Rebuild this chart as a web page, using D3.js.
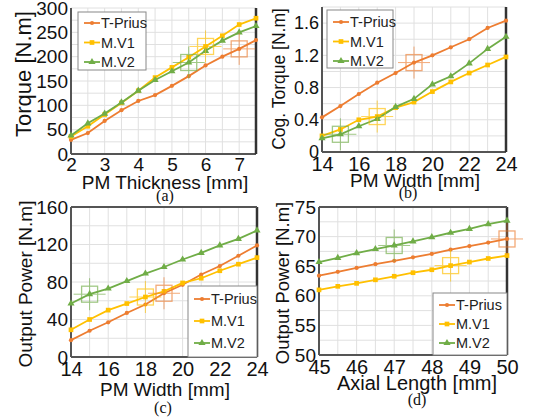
<!DOCTYPE html>
<html><head><meta charset="utf-8">
<script src="https://cdn.jsdelivr.net/npm/d3@7"></script>
<style>body{margin:0;background:#fff}svg{display:block}</style>
</head><body>
<script>
// ---- data ----
const seriesNames = ["T-Prius", "M.V1", "M.V2"];
const colors = ["#ED7D31", "#FFC000", "#70AD47"];

const xA = [2, 2.5, 3, 3.5, 4, 4.5, 5, 5.5, 6, 6.5, 7, 7.5];
const aPrius = [29, 43, 68, 90, 109, 121, 140, 160, 182, 200, 216, 234];
const aV1 = [36, 57, 81, 105, 130, 157, 178, 199, 221, 243, 266, 279];
const aV2 = [38, 63, 83, 106, 130, 152, 170, 188, 212, 233, 250, 263];
const aXTicks = [2, 3, 4, 5, 6, 7];
const aYTicks = [0, 50, 100, 150, 200, 250, 300];

const xB = [14, 15, 16, 17, 18, 19, 20, 21, 22, 23, 24];
const bPrius = [0.43, 0.57, 0.72, 0.86, 0.98, 1.11, 1.20, 1.30, 1.40, 1.54, 1.63];
const bV1 = [0.20, 0.28, 0.40, 0.44, 0.55, 0.62, 0.75, 0.87, 0.98, 1.08, 1.18];
const bV2 = [0.17, 0.22, 0.32, 0.41, 0.56, 0.66, 0.84, 0.94, 1.10, 1.28, 1.43];
const bXTicks = [14, 16, 18, 20, 22, 24];
const bYTicks = [0, 0.4, 0.8, 1.2, 1.6];

const xC = [14, 15, 16, 17, 18, 19, 20, 21, 22, 23, 24];
const cPrius = [18, 28, 37, 47, 56, 68, 77, 88, 97, 108, 119];
const cV1 = [29, 40, 50, 57, 64, 70, 79, 84, 92, 99, 106];
const cV2 = [57, 67, 73, 81, 89, 96, 104, 111, 119, 126, 135];
const cXTicks = [14, 16, 18, 20, 22, 24];
const cYTicks = [0, 40, 80, 120, 160];

const xD = [45, 45.5, 46, 46.5, 47, 47.5, 48, 48.5, 49, 49.5, 50];
const dPrius = [63.4, 64.05, 64.7, 65.35, 65.9, 66.5, 67.1, 67.8, 68.4, 69.0, 69.6];
const dV1 = [61.0, 61.6, 62.1, 62.7, 63.3, 63.9, 64.4, 65.1, 65.7, 66.3, 66.8];
const dV2 = [65.7, 66.4, 67.2, 67.9, 68.5, 69.2, 69.9, 70.65, 71.3, 72.1, 72.7];
const dXTicks = [45, 46, 47, 48, 49, 50];
const dYTicks = [50, 55, 60, 65, 70, 75];

// highlighted (selected) points: x value per series [T-Prius, M.V1, M.V2]
const aSel = [7, 6, 5.5];
const bSel = [19, 17, 15];
const cSel = [19, 18, 15];
const dSel = [50, 48.5, 47];

const W = 533, H = 417;
const svg = d3.select("body").append("svg").attr("width", W).attr("height", H);
const FONT = "'Liberation Sans', Arial, sans-serif";

function panel(cfg) {
  const g = svg.append("g");
  const x = d3.scaleLinear().domain(cfg.xDom).range([cfg.left, cfg.right]);
  const y = d3.scaleLinear().domain(cfg.yDom).range([cfg.bottom, cfg.top]);
  // grid
  const gx = d3.range(cfg.xDom[0], cfg.xDom[1] + 1e-9, cfg.xGrid);
  const gy = d3.range(cfg.yDom[0], cfg.yDom[1] + 1e-9, cfg.yGrid);
  g.selectAll(".gx").data(gx).join("line")
    .attr("x1", d => x(d)).attr("x2", d => x(d)).attr("y1", cfg.top).attr("y2", cfg.bottom)
    .attr("stroke", "#e0e0e0").attr("stroke-width", 1);
  g.selectAll(".gy").data(gy).join("line")
    .attr("x1", cfg.left).attr("x2", cfg.right).attr("y1", d => y(d)).attr("y2", d => y(d))
    .attr("stroke", "#e0e0e0").attr("stroke-width", 1);
  // frame
  const fr = g.append("g").attr("stroke", "#555").attr("stroke-width", 2).attr("fill", "none");
  fr.append("line").attr("x1", cfg.left).attr("x2", cfg.left).attr("y1", cfg.top).attr("y2", cfg.bottom);
  fr.append("line").attr("x1", cfg.left).attr("x2", cfg.right).attr("y1", cfg.bottom).attr("y2", cfg.bottom);
  fr.append("line").attr("x1", cfg.right).attr("x2", cfg.right).attr("y1", cfg.top).attr("y2", cfg.bottom).attr("stroke", "#333").attr("stroke-width", 2.5);
  if (cfg.topLine) fr.append("line").attr("x1", cfg.left).attr("x2", cfg.right).attr("y1", cfg.top).attr("y2", cfg.top);
  // axes (labels only)
  const xAxis = d3.axisBottom(x).tickValues(cfg.xTicks).tickSize(0).tickPadding(cfg.xPad).tickFormat(d3.format("~g"));
  const ax = g.append("g").attr("transform", `translate(0,${cfg.bottom})`).call(xAxis);
  ax.select(".domain").remove();
  ax.selectAll("text").attr("font-family", FONT).attr("font-size", cfg.xTickFs).attr("fill", "#111");
  const yAxis = d3.axisLeft(y).tickValues(cfg.yTicks).tickSize(0).tickPadding(3).tickFormat(d3.format("~g"));
  const ay = g.append("g").attr("transform", `translate(${cfg.left},0)`).call(yAxis);
  ay.select(".domain").remove();
  ay.selectAll("text").attr("font-family", FONT).attr("font-size", cfg.yTickFs).attr("fill", "#111");
  // titles
  g.append("text").attr("x", cfg.xtX).attr("y", cfg.xtY).attr("text-anchor", "middle")
    .attr("font-family", FONT).attr("font-size", cfg.xtFs).attr("fill", "#111").text(cfg.xTitle);
  g.append("text").attr("transform", `translate(${cfg.ytX},${cfg.ytY}) rotate(-90)`).attr("text-anchor", "middle")
    .attr("font-family", FONT).attr("font-size", cfg.ytFs).attr("fill", "#111").text(cfg.yTitle);
  g.append("text").attr("x", cfg.capX).attr("y", cfg.capY).attr("text-anchor", "middle")
    .attr("font-family", "'Liberation Serif', 'Times New Roman', serif").attr("font-size", 16).attr("fill", "#111").text(cfg.caption);
  // series
  const line = d3.line().x(d => x(d[0])).y(d => y(d[1]));
  cfg.series.forEach((vals, i) => {
    const pts = cfg.xs.map((xv, k) => [xv, vals[k]]);
    g.append("path").datum(pts).attr("d", line).attr("fill", "none")
      .attr("stroke", colors[i]).attr("stroke-width", 1.8);
    drawMarkers(g, pts.map(p => [x(p[0]), y(p[1])]), i);
  });
  // highlight boxes
  cfg.sel.forEach((sx, i) => {
    const k = cfg.xs.indexOf(sx);
    const cx = x(sx), cy = y(cfg.series[i][k]);
    const hg = g.append("g").attr("stroke", colors[i]).attr("fill", "none").attr("opacity", 0.65);
    hg.append("rect").attr("x", cx - 8).attr("y", cy - 8).attr("width", 16).attr("height", 16).attr("stroke-width", 1.3);
    hg.append("line").attr("x1", cx - 16).attr("x2", cx + 16).attr("y1", cy).attr("y2", cy).attr("stroke-width", 1);
    hg.append("line").attr("x1", cx).attr("x2", cx).attr("y1", cy - 16).attr("y2", cy + 16).attr("stroke-width", 1);
  });
  // legend
  const L = cfg.legend;
  const lg = g.append("g");
  lg.append("rect").attr("x", L.x).attr("y", L.y).attr("width", L.w).attr("height", L.h)
    .attr("fill", "#fff").attr("stroke", "#888").attr("stroke-width", 1);
  seriesNames.forEach((n, i) => {
    const yy = L.y + L.row0 + i * L.dy;
    lg.append("line").attr("x1", L.x + 6).attr("x2", L.x + 22).attr("y1", yy).attr("y2", yy)
      .attr("stroke", colors[i]).attr("stroke-width", 1.8);
    drawMarkers(lg, [[L.x + 14, yy]], i);
    lg.append("text").attr("x", L.x + 23).attr("y", yy).attr("dy", "0.35em")
      .attr("font-family", FONT).attr("font-size", 14.5).attr("fill", "#222").text(n);
  });
}

function drawMarkers(g, pts, i) {
  const sym = [d3.symbolCircle, d3.symbolSquare, d3.symbolTriangle][i];
  const size = [14, 22, 22][i];
  g.selectAll(null).data(pts).join("path")
    .attr("transform", d => `translate(${d[0]},${d[1]})`)
    .attr("d", d3.symbol().type(sym).size(size)).attr("fill", colors[i]);
}

panel({xDom: [2, 7.5], yDom: [0, 300], left: 71, right: 256, top: 8, bottom: 154,
  xGrid: 0.5, yGrid: 25, xTicks: aXTicks, yTicks: aYTicks, xs: xA, series: [aPrius, aV1, aV2], sel: aSel,
  xPad: 4, xTickFs: 19, yTickFs: 19, xtFs: 19, ytFs: 22,
  xTitle: "PM Thickness [mm]", xtX: 165, xtY: 189, yTitle: "Torque [N.m]", ytX: 31, ytY: 74,
  caption: "(a)", capX: 165, capY: 201,
  legend: {x: 78, y: 12, w: 68, h: 58, row0: 11, dy: 19.5}});

panel({xDom: [14, 24], yDom: [0, 1.8], left: 322, right: 506, top: 7, bottom: 152,
  xGrid: 1, yGrid: 0.2, xTicks: bXTicks, yTicks: bYTicks, xs: xB, series: [bPrius, bV1, bV2], sel: bSel,
  xPad: 5, xTickFs: 20, yTickFs: 18, xtFs: 19, ytFs: 17.5,
  xTitle: "PM Width [mm]", xtX: 415, xtY: 187, yTitle: "Cog. Torque [N.m]", ytX: 285, ytY: 79,
  caption: "(b)", capX: 408, capY: 198,
  legend: {x: 327, y: 10, w: 66, h: 58, row0: 12, dy: 19.5}});

panel({xDom: [14, 24], yDom: [0, 160], left: 71, right: 257, top: 207, bottom: 357,
  xGrid: 1, yGrid: 20, xTicks: cXTicks, yTicks: cYTicks, xs: xC, series: [cPrius, cV1, cV2], sel: cSel, topLine: true,
  xPad: 5, xTickFs: 20, yTickFs: 19, xtFs: 19, ytFs: 19,
  xTitle: "PM Width [mm]", xtX: 165, xtY: 396, yTitle: "Output Power [N.m]", ytX: 32, ytY: 284,
  caption: "(c)", capX: 163, capY: 413,
  legend: {x: 188, y: 286, w: 69, h: 71, row0: 13, dy: 22}});

panel({xDom: [45, 50], yDom: [50, 75], left: 319, right: 507, top: 207, bottom: 355,
  xGrid: 0.5, yGrid: 2.5, xTicks: dXTicks, yTicks: dYTicks, xs: xD, series: [dPrius, dV1, dV2], sel: dSel, topLine: true,
  xPad: 5, xTickFs: 20, yTickFs: 19, xtFs: 20, ytFs: 18.5,
  xTitle: "Axial Length [mm]", xtX: 417, xtY: 390, yTitle: "Output Power [N.m]", ytX: 289, ytY: 283,
  caption: "(d)", capX: 417, capY: 405,
  legend: {x: 433, y: 293, w: 74, h: 62, row0: 12, dy: 19}});
</script>
</body></html>
